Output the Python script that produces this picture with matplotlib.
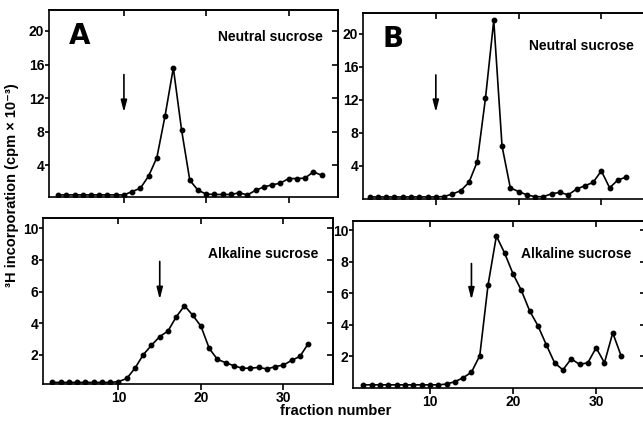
import matplotlib
matplotlib.use("Agg")
import matplotlib.pyplot as plt

# fraction numbers for each gradient
frac_a_neutral = list(range(2, 35))
frac_a_alkaline = list(range(2, 34))
frac_b_neutral = list(range(2, 34))
frac_b_alkaline = list(range(2, 34))

# 3H incorporation (cpm x 10^-3)
a_neutral = [0.45, 0.45, 0.45, 0.45, 0.45, 0.45, 0.45, 0.45, 0.45,
             0.85, 1.25, 2.7, 4.9, 9.9, 15.6, 8.2, 2.2, 1.0, 0.55,
             0.5, 0.5, 0.5, 0.7, 0.45, 1.0, 1.4, 1.65, 1.85, 2.4,
             2.4, 2.45, 3.2, 2.8]
a_alkaline = [0.25, 0.25, 0.25, 0.25, 0.25, 0.25, 0.25, 0.25, 0.3,
              0.5, 1.15, 2.0, 2.6, 3.15, 3.5, 4.4, 5.1, 4.5, 3.8,
              2.4, 1.7, 1.5, 1.3, 1.15, 1.15, 1.2, 1.1, 1.25, 1.35,
              1.65, 1.9, 2.7]
b_neutral = [0.25, 0.25, 0.25, 0.25, 0.25, 0.25, 0.25, 0.25, 0.25,
             0.3, 0.6, 1.0, 2.0, 4.5, 12.2, 21.6, 6.4, 1.35, 0.9,
             0.5, 0.28, 0.28, 0.64, 0.8, 0.5, 1.2, 1.6, 2.0, 3.4,
             1.35, 2.3, 2.65]
b_alkaline = [0.2, 0.2, 0.2, 0.2, 0.2, 0.2, 0.2, 0.2, 0.2, 0.2,
              0.25, 0.4, 0.65, 1.0, 2.05, 6.55, 9.65, 8.55, 7.25,
              6.2, 4.9, 3.95, 2.75, 1.6, 1.15, 1.85, 1.5, 1.6, 2.55,
              1.6, 3.5, 2.05]

# arrows: (fraction, top, bottom)
arrow_a_neutral = (10, 14.8, 10.3)
arrow_a_alkaline = (15, 7.9, 5.5)
arrow_b_neutral = (10, 15.0, 10.5)
arrow_b_alkaline = (15, 7.9, 5.6)

neutral_yticks = [4, 8, 12, 16, 20]
alkaline_yticks = [2, 4, 6, 8, 10]
x_ticks = [10, 20, 30]

plt.rcParams["font.family"] = ["Liberation Sans", "DejaVu Sans"]
plt.rcParams["font.weight"] = "bold"

W, H = 643, 421


def px_axes(fig, x0, x1, ytop, ybot):
    return fig.add_axes([x0 / W, (H - ybot) / H, (x1 - x0) / W, (ybot - ytop) / H])


def style(ax, xlim, ylim, yticks, xlabels):
    ax.set_xlim(*xlim)
    ax.set_ylim(*ylim)
    for s in ax.spines.values():
        s.set_linewidth(1.2)
    ax.set_xticks(x_ticks)
    ax.set_yticks(yticks)
    ax.tick_params(axis="x", direction="out", length=4, width=1.2,
                   labelsize=10, pad=1, labelbottom=xlabels)
    ax.tick_params(axis="y", direction="out", length=3, width=1.2,
                   labelsize=10, pad=0.5)
    top = ax.secondary_xaxis("top")
    top.set_xticks(x_ticks)
    top.tick_params(direction="in", length=4, width=1.2, labeltop=False)
    right = ax.secondary_yaxis("right")
    right.set_yticks(yticks)
    right.tick_params(direction="in", length=4, width=1.2, labelright=False)
    for sec in (top, right):
        for s in sec.spines.values():
            s.set_linewidth(1.2)


def profile(ax, x, y, arrow, label, letter=None, label_xy=(0.0, 0.0)):
    ax.plot(x, y, color="black", lw=1.2, marker="o", ms=3.2, mec="black", mfc="black")
    fx, ytop, ybot = arrow
    ax.annotate("", xy=(fx, ybot), xytext=(fx, ytop),
                arrowprops=dict(arrowstyle="-|>,head_length=0.7,head_width=0.18",
                                color="black", lw=1.2, shrinkA=0, shrinkB=0))
    ax.text(label_xy[0], label_xy[1], label, transform=ax.transAxes,
            fontsize=10, ha="left", va="center")
    if letter:
        ax.text(0.105, 0.86, letter, transform=ax.transAxes, fontsize=20,
                family=["DejaVu Sans"], ha="center", va="center")


fig = plt.figure(figsize=(W / 100, H / 100), dpi=100)

ax_a1 = px_axes(fig, 49, 338, 10, 197)
style(ax_a1, (0.9, 36), (0.2, 22.5), neutral_yticks, False)
profile(ax_a1, frac_a_neutral, a_neutral, arrow_a_neutral, "Neutral sucrose", "A", (0.585, 0.855))

ax_b1 = px_axes(fig, 363, 651, 13, 199)
style(ax_b1, (1.2, 36), (0, 22.5), neutral_yticks, False)
profile(ax_b1, frac_b_neutral, b_neutral, arrow_b_neutral, "Neutral sucrose", "B", (0.575, 0.82))

ax_a2 = px_axes(fig, 43, 333, 218, 384)
style(ax_a2, (0.85, 36), (0.15, 10.65), alkaline_yticks, True)
profile(ax_a2, frac_a_alkaline, a_alkaline, arrow_a_alkaline, "Alkaline sucrose", None, (0.57, 0.785))

ax_b2 = px_axes(fig, 353, 646, 221, 388)
style(ax_b2, (0.75, 36), (0, 10.6), alkaline_yticks, True)
profile(ax_b2, frac_b_alkaline, b_alkaline, arrow_b_alkaline, "Alkaline sucrose", None, (0.575, 0.80))

fig.text(12 / W, 1 - 185 / H, "³H incorporation (cpm × 10⁻³)", rotation=90,
         ha="center", va="center", fontsize=10.5)
fig.text(336 / W, 1 - 411 / H, "fraction number", ha="center", va="center",
         fontsize=10.5)

fig.savefig("out.png", dpi=100)
